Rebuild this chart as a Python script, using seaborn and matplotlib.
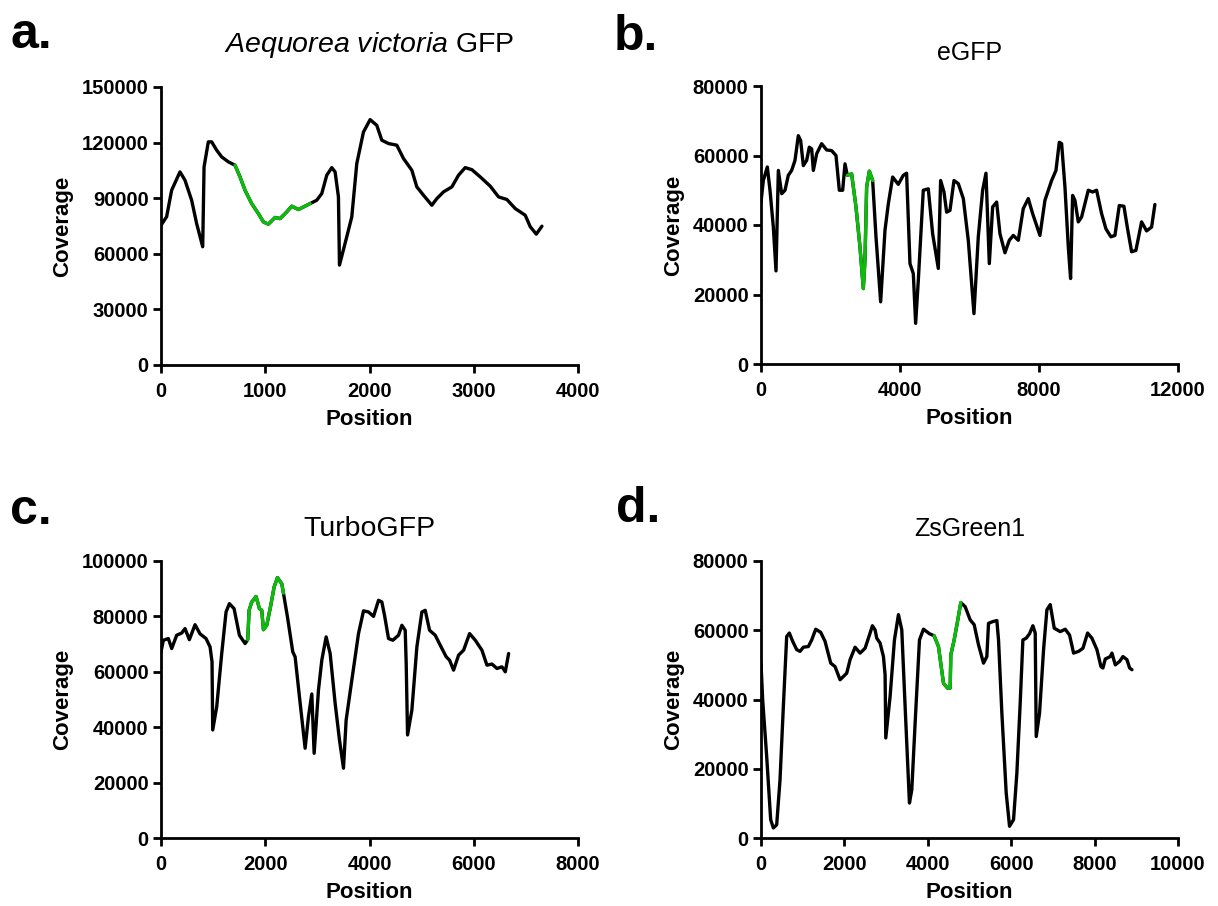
import numpy as np
import pandas as pd
import matplotlib
matplotlib.use("Agg")
import matplotlib.pyplot as plt
import seaborn as sns

# ---- Coverage profiles (position, coverage) ----
avgfp_pos = [0, 54, 102, 182, 230, 294, 342, 400, 413, 454, 486, 534, 582, 646, 710,
             758, 806, 870, 934, 982, 1030, 1094, 1142, 1206, 1254, 1318, 1382, 1430,
             1494, 1542, 1590, 1638, 1670, 1702, 1712, 1782, 1830, 1878, 1942, 2006,
             2070, 2118, 2182, 2262, 2326, 2406, 2454, 2518, 2598, 2646, 2710, 2790,
             2854, 2918, 2982, 3062, 3158, 3238, 3318, 3398, 3494, 3542, 3600, 3654]
avgfp_cov = [75400, 80000, 94300, 104200, 99700, 88900, 76300, 63800, 106900, 120400,
             120400, 115900, 112300, 109600, 107800, 101500, 94300, 87100, 81700, 77200,
             76000, 79600, 79000, 82600, 85700, 83900, 85700, 87100, 88900, 92500,
             102400, 106500, 104200, 90700, 53900, 69200, 79900, 108700, 125700, 132400,
             129300, 121300, 119500, 118600, 111400, 105100, 96100, 91600, 86200, 89800,
             93400, 96100, 102400, 106500, 105400, 101500, 96500, 90700, 89300, 84400,
             80800, 74600, 70600, 74900]
avgfp_green = (710, 1430)

egfp_pos = [0, 67, 182, 259, 355, 432, 499, 595, 691, 786, 882, 978, 1074, 1141, 1218,
            1314, 1390, 1458, 1506, 1602, 1745, 1889, 2033, 2158, 2254, 2350, 2417, 2484,
            2608, 2733, 2848, 2944, 2992, 3040, 3117, 3213, 3309, 3443, 3568, 3664, 3789,
            3951, 4095, 4190, 4287, 4383, 4450, 4527, 4670, 4814, 4939, 5102, 5169, 5265,
            5342, 5438, 5553, 5678, 5822, 5965, 6128, 6253, 6378, 6474, 6570, 6666, 6781,
            6876, 7020, 7145, 7260, 7404, 7547, 7691, 7816, 8027, 8171, 8363, 8488, 8584,
            8651, 8747, 8843, 8909, 8967, 9034, 9130, 9226, 9418, 9542, 9657, 9801, 9926,
            10070, 10185, 10310, 10444, 10540, 10665, 10789, 10952, 11096, 11240, 11335]
egfp_cov = [46600, 52800, 56700, 50000, 39400, 26800, 55700, 49000, 50000, 54300, 55700,
            58600, 65700, 64300, 57100, 58600, 62400, 61900, 55700, 60500, 63400, 61600,
            61400, 60000, 50000, 50000, 57600, 54300, 54700, 45200, 33700, 21700, 29900,
            50900, 55500, 52800, 36600, 17900, 38500, 46100, 53800, 51700, 54300, 54900,
            28900, 26000, 11700, 24100, 50000, 50400, 37500, 27500, 52800, 49500, 43700,
            44200, 52800, 51900, 47600, 35600, 14500, 36600, 50000, 54900, 28900, 45200,
            46600, 37500, 32000, 35600, 37000, 35600, 44700, 47600, 43300, 37000, 47100,
            52800, 55700, 63800, 63400, 50900, 33700, 24600, 48500, 47100, 40900, 42300,
            50000, 49500, 50000, 43300, 38900, 36600, 37000, 45600, 45400, 39400, 32300,
            32700, 40900, 38300, 39400, 45900]
egfp_green = (2484, 3213)

turbo_pos = [0, 45, 141, 205, 301, 397, 461, 544, 653, 749, 864, 941, 979, 992, 1069,
             1165, 1248, 1312, 1402, 1504, 1613, 1664, 1690, 1741, 1824, 1888, 1933, 1965,
             2029, 2106, 2170, 2234, 2317, 2349, 2426, 2528, 2573, 2656, 2765, 2829, 2893,
             2938, 3021, 3085, 3168, 3245, 3341, 3424, 3501, 3552, 3661, 3789, 3885, 3981,
             4077, 4173, 4237, 4288, 4365, 4448, 4557, 4621, 4685, 4704, 4730, 4813, 4909,
             5005, 5069, 5152, 5261, 5357, 5472, 5536, 5613, 5709, 5805, 5920, 6029, 6157,
             6253, 6349, 6445, 6541, 6605, 6669]
turbo_cov = [67200, 71400, 72000, 68400, 73200, 74000, 75600, 71600, 77000, 73700, 72000,
             69000, 63600, 39000, 47400, 66600, 81600, 84600, 82800, 73200, 70200, 71600,
             82200, 85200, 87200, 82800, 82200, 75200, 76800, 84000, 90600, 94000, 91800,
             88400, 79800, 67200, 65400, 51000, 32400, 43800, 52000, 30600, 53400, 64200,
             72600, 66600, 48600, 35400, 25200, 42600, 57000, 73800, 82000, 81600, 80000,
             85800, 85200, 80400, 72000, 71400, 73200, 76800, 75000, 63000, 37200, 46200,
             69000, 81600, 82200, 75000, 73200, 69600, 65400, 64200, 60600, 66000, 67800,
             73800, 71400, 67800, 62400, 62800, 61200, 61800, 60000, 66600]
turbo_green = (1664, 2349)

zs_pos = [0, 40, 136, 232, 296, 376, 456, 536, 616, 680, 760, 856, 936, 1016, 1136, 1216,
          1312, 1432, 1536, 1672, 1776, 1896, 2056, 2136, 2256, 2376, 2496, 2616, 2672,
          2736, 2776, 2856, 2936, 2976, 2992, 3096, 3200, 3296, 3376, 3456, 3560, 3616,
          3696, 3800, 3896, 4040, 4152, 4256, 4376, 4472, 4536, 4552, 4632, 4712, 4792,
          4896, 5016, 5112, 5216, 5336, 5416, 5456, 5560, 5656, 5696, 5776, 5880, 5960,
          6056, 6136, 6216, 6280, 6360, 6440, 6520, 6576, 6600, 6680, 6776, 6856, 6936,
          7032, 7176, 7296, 7400, 7496, 7616, 7720, 7832, 7936, 8056, 8152, 8200, 8256,
          8376, 8416, 8496, 8600, 8680, 8776, 8840, 8896]
zs_cov = [50500, 39900, 23600, 5300, 2900, 3800, 16800, 38000, 58200, 59200, 56800, 54400,
          53900, 55100, 55300, 57200, 60300, 59400, 56800, 50500, 49500, 45700, 47600,
          51500, 55100, 53400, 54800, 59200, 61300, 60100, 57700, 56300, 52400, 47100,
          28900, 40900, 57200, 64500, 60100, 38000, 10100, 13900, 33200, 57200, 60300,
          59000, 58400, 55300, 44700, 43300, 43300, 52900, 57200, 62500, 68000, 66800,
          63000, 61600, 55800, 50500, 52400, 62000, 62500, 62800, 57200, 36100, 13000,
          3400, 5300, 18800, 39000, 57200, 57700, 59000, 61300, 59200, 29300, 36100, 54400,
          65900, 67400, 60600, 59600, 60300, 58600, 53400, 53900, 54800, 59200, 57700,
          54400, 49500, 49100, 51700, 52400, 53400, 50000, 51000, 52400, 51500, 49100, 48600]
zs_green = (4152, 4792)

titles = [r"$\mathit{Aequorea\ victoria}$ GFP", "eGFP", "TurboGFP", "ZsGreen1"]
letters = ["a.", "b.", "c.", "d."]
x_max = [4000, 12000, 8000, 10000]
x_step = [1000, 4000, 2000, 2000]
y_max = [150000, 80000, 100000, 80000]
y_step = [30000, 20000, 20000, 20000]

sns.set_theme(style="ticks")
plt.rcParams["font.family"] = ["Liberation Sans", "DejaVu Sans"]
plt.rcParams["mathtext.fontset"] = "custom"
plt.rcParams["mathtext.rm"] = "Liberation Sans"
plt.rcParams["mathtext.it"] = "Liberation Sans:italic"
plt.rcParams["text.color"] = "black"
plt.rcParams["axes.labelcolor"] = "black"

fig = plt.figure(figsize=(12.18, 9.06), dpi=100)
W, H = 1218, 906
boxes = [(161, 87, 578, 365), (761, 86, 1178, 364),
         (161, 561, 578, 838), (761, 561, 1178, 838)]
letter_xy = [(10, 48), (614, 50), (10, 524), (616, 522)]
title_pad = [25, 19, 18, 18]
title_size = [20.5, 18, 20.5, 18]

series = [(avgfp_pos, avgfp_cov, avgfp_green), (egfp_pos, egfp_cov, egfp_green),
          (turbo_pos, turbo_cov, turbo_green), (zs_pos, zs_cov, zs_green)]

BLACK = "#000000"
GREEN = "#0dbb0d"

for i, (pos, cov, green) in enumerate(series):
    l, t, r, b = boxes[i]
    ax = fig.add_axes([l / W, 1 - b / H, (r - l) / W, (b - t) / H])
    df = pd.DataFrame({"Position": pos, "Coverage": cov})
    sns.lineplot(data=df, x="Position", y="Coverage", ax=ax, color=BLACK,
                 linewidth=2.4, estimator=None, sort=False)
    seg = df[(df["Position"] >= green[0]) & (df["Position"] <= green[1])]
    sns.lineplot(data=seg, x="Position", y="Coverage", ax=ax, color=GREEN,
                 linewidth=2.4, estimator=None, sort=False)
    for ln in ax.lines:
        ln.set_solid_joinstyle("round")
        ln.set_solid_capstyle("round")

    ax.set_xlim(0, x_max[i])
    ax.set_ylim(0, y_max[i])
    ax.set_xticks(np.arange(0, x_max[i] + 1, x_step[i]))
    ax.set_yticks(np.arange(0, y_max[i] + 1, y_step[i]))
    ax.xaxis.set_major_formatter(matplotlib.ticker.FuncFormatter(lambda v, p: f"{int(v)}"))
    ax.yaxis.set_major_formatter(matplotlib.ticker.FuncFormatter(lambda v, p: f"{int(v)}"))
    sns.despine(ax=ax)
    for s in ("left", "bottom"):
        ax.spines[s].set_linewidth(2.0)
        ax.spines[s].set_color(BLACK)
        ax.spines[s].set_capstyle("projecting")
    ax.tick_params(axis="both", direction="out", length=6, width=2.0, color=BLACK,
                   labelsize=14.5, labelcolor=BLACK)
    ax.tick_params(axis="y", pad=3)
    ax.tick_params(axis="x", pad=6.5)
    for lab in ax.get_xticklabels() + ax.get_yticklabels():
        lab.set_fontweight("bold")
    ax.set_xlabel("Position", fontsize=16, fontweight="bold", labelpad=5.5)
    ax.set_ylabel("Coverage", fontsize=16, fontweight="bold", labelpad=6)
    ax.set_title(titles[i], fontsize=title_size[i], pad=title_pad[i], color=BLACK)
    ax.set_facecolor("white")

    fig.text(letter_xy[i][0] / W, 1 - letter_xy[i][1] / H, letters[i],
             fontsize=36, fontweight="bold", ha="left", va="baseline", color=BLACK)

fig.savefig("out.png", dpi=100, facecolor="white")
